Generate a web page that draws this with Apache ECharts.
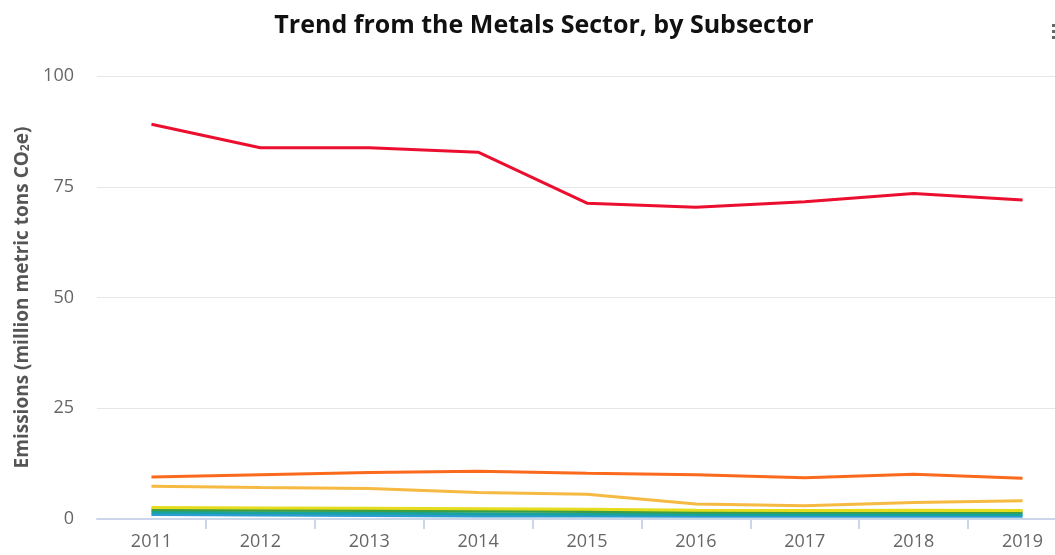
<!DOCTYPE html>
<html>
<head>
<meta charset="utf-8">
<title>Trend from the Metals Sector, by Subsector</title>
<script src="https://cdn.jsdelivr.net/npm/echarts@6/dist/echarts.min.js"></script>
<style>
  html, body { margin: 0; padding: 0; background: #ffffff; overflow: hidden; width: 1055px; height: 555px; }
  /* the plot runs slightly past the right edge of the page */
  #chart { width: 1077px; height: 555px; }
</style>
</head>
<body>
<div id="chart"></div>
<script>
// Reporting years
var years = ['2011', '2012', '2013', '2014', '2015', '2016', '2017', '2018', '2019'];

// Emissions by subsector, million metric tons CO2e
var ironSteel   = [89.1, 83.8, 83.8, 82.8, 71.3, 70.4, 71.6, 73.5, 72.0];
var aluminum    = [9.5, 10.0, 10.5, 10.8, 10.3, 10.0, 9.3, 10.1, 9.2];
var ferroalloy  = [7.4, 7.1, 6.9, 6.0, 5.6, 3.4, 3.0, 3.7, 4.1];
var lead        = [2.6, 2.5, 2.4, 2.3, 2.2, 2.0, 1.9, 2.0, 1.9];
var zinc        = [2.1, 2.0, 1.9, 1.8, 1.7, 1.5, 1.5, 1.5, 1.5];
var magnesium   = [1.5, 1.4, 1.3, 1.2, 1.1, 1.0, 1.0, 1.1, 1.0];
var otherMetals = [1.0, 0.9, 0.8, 0.7, 0.7, 0.6, 0.6, 0.6, 0.6];

// Y axis ticks
var yTicks = [0, 25, 50, 75, 100];

var seriesDefs = [
  { name: 'Iron and Steel', data: ironSteel,   color: '#ec0e2e' },
  { name: 'Aluminum',       data: aluminum,    color: '#fb6a1c' },
  { name: 'Ferroalloy',     data: ferroalloy,  color: '#f6b941' },
  { name: 'Lead',           data: lead,        color: '#e4dc1c' },
  { name: 'Zinc',           data: zinc,        color: '#3d9f45' },
  { name: 'Magnesium',      data: magnesium,   color: '#17a3a0' },
  { name: 'Other Metals',   data: otherMetals, color: '#2d9bd4' }
];

var fontFamily = '"Open Sans", "DejaVu Sans", sans-serif';

var chart = echarts.init(document.getElementById('chart'), null, { renderer: 'canvas' });

chart.setOption({
  animation: false,
  backgroundColor: '#ffffff',
  title: {
    text: 'Trend from the Metals Sector, by Subsector',
    left: 539,
    textAlign: 'center',
    top: 8,
    textStyle: {
      fontFamily: fontFamily,
      fontSize: 25,
      fontWeight: 'bold',
      color: '#111111'
    }
  },
  grid: {
    left: 97,
    right: 0,
    top: 76,
    bottom: 36,
    containLabel: false
  },
  xAxis: {
    type: 'category',
    data: years,
    boundaryGap: true,
    axisLine: { show: true, lineStyle: { color: '#ccd6eb', width: 2 } },
    axisTick: {
      show: true,
      length: 10,
      // no tick at the axis start
      interval: function (index) { return index > 0; },
      lineStyle: { color: '#ccd6eb', width: 2 }
    },
    axisLabel: {
      color: '#666666',
      fontFamily: fontFamily,
      fontSize: 18,
      margin: 14
    },
    splitLine: { show: false }
  },
  yAxis: {
    type: 'value',
    min: yTicks[0],
    max: yTicks[yTicks.length - 1],
    interval: 25,
    axisLine: { show: false },
    axisTick: { show: false },
    axisLabel: {
      color: '#666666',
      fontFamily: fontFamily,
      fontSize: 18,
      margin: 23
    },
    splitLine: { lineStyle: { color: '#e6e6e6', width: 1 } },
    name: '{n|Emissions (million metric tons CO}{s|2}{n|e)}',
    nameLocation: 'middle',
    nameGap: 65,
    nameRotate: 90,
    nameTextStyle: {
      rich: {
        n: {
          fontFamily: fontFamily,
          fontSize: 19,
          fontWeight: 'bold',
          color: '#555555'
        },
        s: {
          fontFamily: fontFamily,
          fontSize: 12,
          fontWeight: 'bold',
          color: '#555555',
          verticalAlign: 'bottom',
          padding: [7, 0, 0, 0]
        }
      }
    }
  },
  series: seriesDefs.slice().reverse().map(function (s) {
    return {
      name: s.name,
      type: 'line',
      data: s.data,
      showSymbol: false,
      symbol: 'none',
      lineStyle: { color: s.color, width: 3 },
      itemStyle: { color: s.color },
      z: 2
    };
  }),
  graphic: [
    { type: 'rect', shape: { x: 1052, y: 24, width: 3, height: 3 }, style: { fill: '#666666' } },
    { type: 'rect', shape: { x: 1052, y: 30, width: 3, height: 3 }, style: { fill: '#666666' } },
    { type: 'rect', shape: { x: 1052, y: 36, width: 3, height: 3 }, style: { fill: '#666666' } }
  ]
});
</script>
</body>
</html>
